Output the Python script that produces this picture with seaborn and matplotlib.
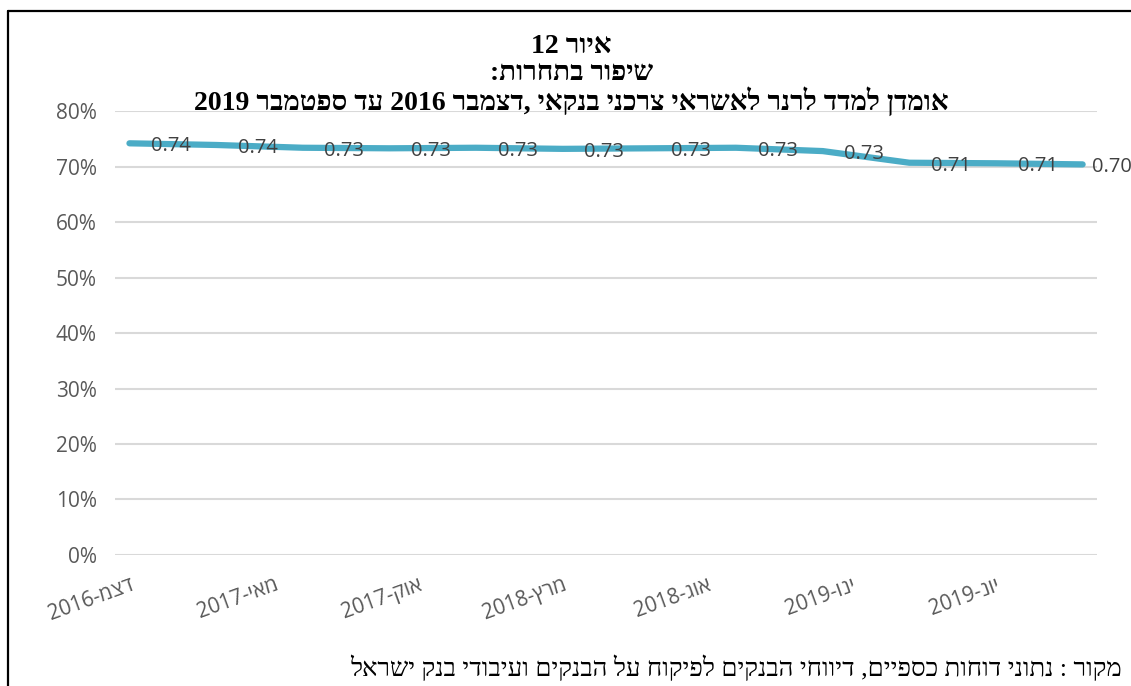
import re
import pandas as pd
import matplotlib
matplotlib.use('Agg')
import matplotlib.pyplot as plt
from matplotlib.lines import Line2D
from matplotlib.ticker import PercentFormatter
import seaborn as sns

sns.set_style('white')
plt.rcParams['font.family'] = ['Open Sans', 'DejaVu Sans']

# data: quarterly points, x = months since Dec 2016
months = [0, 3, 6, 9, 12, 15, 18, 21, 24, 27, 30, 33]
lerner = [0.742, 0.739, 0.734, 0.733, 0.734, 0.732, 0.733, 0.734, 0.728, 0.707, 0.706, 0.704]
tick_months = [0, 5, 10, 15, 20, 25, 30]
tick_names = ['דצמ-2016', 'מאי-2017', 'אוק-2017', 'מרץ-2018', 'אוג-2018', 'ינו-2019', 'יונ-2019']
y_ticks = [0, 0.1, 0.2, 0.3, 0.4, 0.5, 0.6, 0.7, 0.8]

title_lines = ['איור 12', 'שיפור בתחרות:',
               'אומדן למדד לרנר לאשראי צרכני בנקאי ,דצמבר 2016 עד ספטמבר 2019']
source = 'מקור : נתוני דוחות כספיים, דיווחי הבנקים לפיקוח על הבנקים ועיבודי בנק ישראל'


def heb(s):
    # matplotlib has no bidi: put right-to-left text in visual order
    s = s[::-1]
    return re.sub(r'[0-9.%]+', lambda m: m.group(0)[::-1], s)


df = pd.DataFrame({'month': months, 'value': lerner})

fig = plt.figure(figsize=(11.31, 6.86), dpi=100)
ax = fig.add_axes([0.1017, 0.191, 0.8683, 0.647])

sns.lineplot(data=df, x='month', y='value', ax=ax, color='#4BACC6',
             linewidth=4.5, solid_capstyle='round')

for i, (m, v) in enumerate(zip(months, lerner)):
    last = i == len(months) - 1
    # the last label is pulled in towards the plot, as in the original
    ax.annotate(f'{v:.2f}', (m, v), xytext=(7, -2) if last else (30, -2),
                textcoords='offset points', ha='left' if last else 'center',
                va='center', fontsize=14.5, color='#404040',
                annotation_clip=False)

ax.set_xlim(-0.5, 33.5)
ax.set_ylim(0, 0.8)
ax.set_yticks(y_ticks)
ax.yaxis.set_major_formatter(PercentFormatter(1.0, decimals=0))
ax.set_xticks(tick_months)
ax.set_xticklabels([heb(t) for t in tick_names], rotation=20, ha='right',
                   rotation_mode='anchor')
ax.tick_params(axis='x', length=0, pad=14, labelsize=15, labelcolor='#595959')
ax.tick_params(axis='y', length=0, pad=13, labelsize=15, labelcolor='#595959')
ax.grid(axis='y', color='#D9D9D9', linewidth=1.5)
ax.grid(axis='x', visible=False)
ax.set_xlabel('')
ax.set_ylabel('')
for sp in ax.spines.values():
    sp.set_visible(False)

title_y = [0.932, 0.893, 0.853]
for t, y in zip(title_lines, title_y):
    fig.text(0.505, y, heb(t), ha='center', va='center', fontsize=20,
             fontweight='bold', color='black',
             family=['Liberation Serif', 'DejaVu Sans'])

fig.text(0.992, 0.027, heb(source), ha='right', va='center', fontsize=18.5,
         color='black', family=['Liberation Serif', 'DejaVu Sans'])

# frame around the figure (cut off right and bottom)
fig.add_artist(Line2D([0.0075, 1.0], [0.984, 0.984], transform=fig.transFigure,
                      color='black', linewidth=1.6))
fig.add_artist(Line2D([0.0075, 0.0075], [0.0, 0.984], transform=fig.transFigure,
                      color='black', linewidth=1.6))

fig.savefig('out.png', dpi=100)
